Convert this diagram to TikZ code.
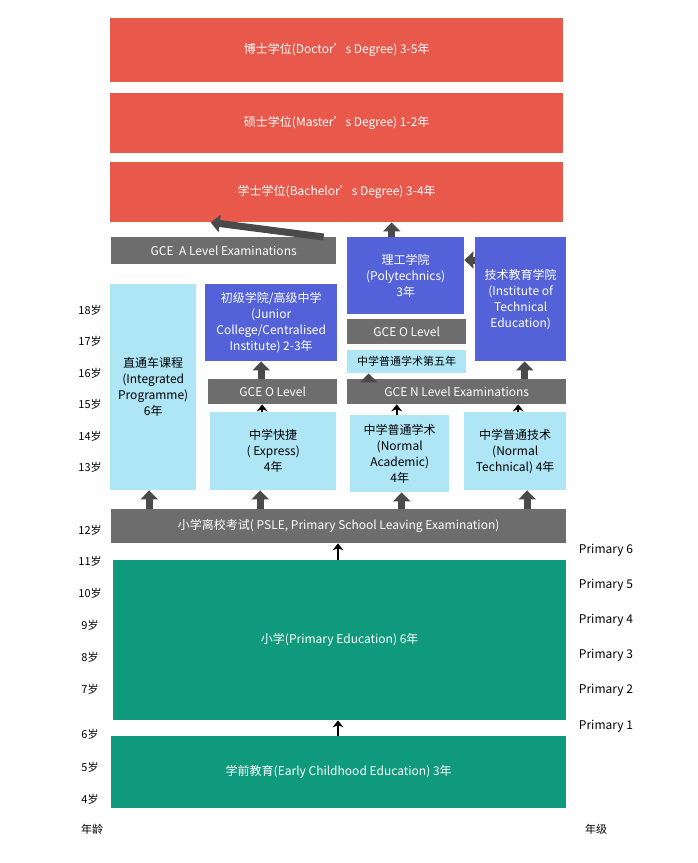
\documentclass[tikz,border=0pt]{standalone}
\usepackage{fontspec}
\setmainfont{Noto Sans CJK SC}
\usetikzlibrary{arrows.meta}
\definecolor{cred}{HTML}{E8584B}
\definecolor{cblue}{HTML}{5462D9}
\definecolor{clight}{HTML}{AEE6F6}
\definecolor{cgray}{HTML}{6D6D6D}
\definecolor{cgreen}{HTML}{0F9A7D}
\definecolor{carr}{HTML}{4A4A4A}
\begin{document}
\begin{tikzpicture}[x=1pt,y=-1pt,
 bx/.style={anchor=north west,inner sep=2pt,align=center,text=white,font=\fontsize{12}{16}\selectfont},
 red/.style={bx,fill=cred},
 blu/.style={bx,fill=cblue},
 lbl/.style={bx,fill=clight,text=black},
 gry/.style={bx,fill=cgray},
 grn/.style={bx,fill=cgreen},
 blk/.style={draw=carr,line width=7pt,-{Triangle[width=17pt,length=9pt]}},
 thin/.style={draw=black,line width=2pt,-{Stealth[width=11pt,length=7pt]}},
 lab/.style={font=\fontsize{11}{13}\selectfont,text=black}]
\useasboundingbox (0,0) rectangle (698,863);
\node[red,minimum width=453,minimum height=64] (doc) at (110,18) {博士学位(Doctor's Degree) 3-5年};
\node[red,minimum width=453,minimum height=60] (mas) at (110,93) {硕士学位(Master's Degree) 1-2年};
\node[red,minimum width=453,minimum height=60] (bac) at (110,162) {学士学位(Bachelor's Degree) 3-4年};
\node[gry,minimum width=225,minimum height=27] (gcea) at (111,237) {GCE\ \ A Level Examinations};
\node[blu,minimum width=117,minimum height=77] (poly) at (347,237) {理工学院\\(Polytechnics)\\3年};
\node[blu,minimum width=91,minimum height=124] (ite) at (475,237) {技术教育学院\\(Institute of\\Technical\\Education)};
\node[lbl,minimum width=86,minimum height=206] (integ) at (110,284) {直通车课程\\(Integrated\\Programme)\\6年};
\node[blu,minimum width=132,minimum height=77] (jc) at (205,284) {初级学院/高级中学\\(Junior\\College/Centralised\\Institute) 2-3年};
\node[gry,minimum width=119,minimum height=25] (gcoR) at (347,319) {GCE O Level};
\node[lbl,minimum width=119,minimum height=23,font=\fontsize{11}{13}\selectfont] (fifth) at (347,350) {中学普通学术第五年};
\node[gry,minimum width=129,minimum height=25] (gcoL) at (208,379) {GCE O Level};
\node[gry,minimum width=219,minimum height=25] (gcn) at (347,379) {GCE N Level Examinations};
\node[lbl,minimum width=126,minimum height=78] (exp) at (210,412) {中学快捷\\( Express)\\4年};
\node[lbl,minimum width=99,minimum height=77] (na) at (350,415) {中学普通学术\\(Normal\\Academic)\\4年};
\node[lbl,minimum width=102,minimum height=78] (nt) at (464,412) {中学普通技术\\(Normal\\Technical) 4年};
\node[gry,minimum width=455,minimum height=34] (psle) at (111,509) {小学离校考试( PSLE, Primary School Leaving Examination)};
\node[grn,minimum width=453,minimum height=160] (pri) at (113,560) {小学(Primary Education) 6年};
\node[grn,minimum width=455,minimum height=72] (pre) at (111,736) {学前教育(Early Childhood Education) 3年};
% block arrows
\draw[blk] ([xshift=-4pt]integ.south |- psle.north) -- ([xshift=-4pt]integ.south);
\draw[blk] ([xshift=-13pt]exp.south |- psle.north) -- ([xshift=-13pt]exp.south);
\draw[blk] ([xshift=2pt]na.south |- psle.north) -- ([xshift=2pt]na.south);
\draw[blk] ([xshift=12pt]nt.south |- psle.north) -- ([xshift=12pt]nt.south);
\draw[blk] ([xshift=-10pt]jc.south |- gcoL.north) -- ([xshift=-10pt]jc.south);
\draw[blk] ([xshift=-38pt]fifth.south |- gcn.north) -- ([xshift=-38pt]fifth.south);
\draw[blk] ([xshift=4pt]ite.south |- gcn.north) -- ([xshift=4pt]ite.south);
\draw[blk] ([xshift=-13pt]bac.south |- gcea.north) -- ([xshift=-13pt]bac.south -| gcea.north);
\coordinate (pa) at ([xshift=-14pt]poly.north);
\draw[blk] (pa) -- (pa |- bac.south);
\draw[blk] (ite.west |- 0,260) -- (poly.east |- 0,260);
% thin arrows
\draw[thin] ([xshift=-11pt]exp.north) -- ([xshift=-11pt]exp.north |- gcoL.south);
\draw[thin] ([xshift=-3pt]na.north) -- ([xshift=-3pt]na.north |- gcn.south);
\draw[thin] ([xshift=3pt]nt.north) -- ([xshift=3pt]nt.north |- gcn.south);
\draw[thin] (338,0 |- pri.north) -- (338,0 |- psle.south);
\draw[thin] (338,0 |- pre.north) -- (338,0 |- pri.south);
% ages
\foreach \a/\y in {18/310,17/341,16/373,15/404,14/436,13/467,12/530,11/561,10/593,9/625,8/657,7/689,6/734,5/767,4/799}
  \node[lab] (age\a) at (90,\y) {\a 岁};
\node[lab] (agel) at (92,829) {年龄};
\foreach \p/\y in {6/550,5/585,4/620,3/655,2/690,1/726}
  \node[lab,font=\fontsize{12}{14}\selectfont] (p\p) at (606,\y) {Primary \p};
\node[lab] (grl) at (596,829) {年级};
\end{tikzpicture}
\end{document}
